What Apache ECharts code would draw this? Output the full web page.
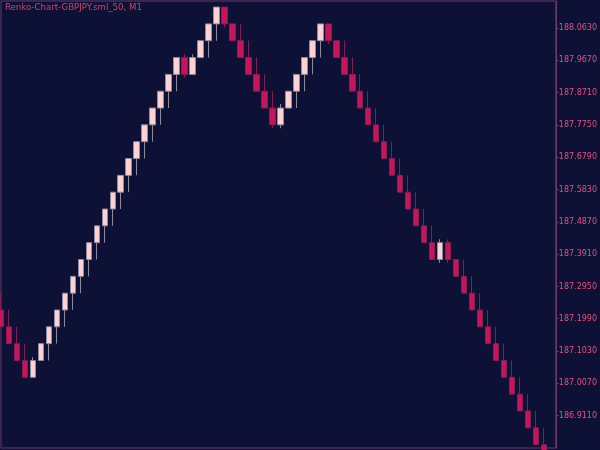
<!DOCTYPE html>
<html><head><meta charset="utf-8">
<script src="https://cdn.jsdelivr.net/npm/echarts@6/dist/echarts.min.js"></script>
<style>html,body{margin:0;padding:0;background:#0d1136;}#c{width:600px;height:450px;}</style>
</head><body><div id="c"></div>
<script>
const brickIndex = [0,1,2,3,4,5,6,7,8,9,10,11,12,13,14,15,16,17,18,19,20,21,22,23,24,25,26,27,28,29,30,31,32,33,34,35,36,37,38,39,40,41,42,43,44,45,46,47,48,49,50,51,52,53,54,55,56,57,58,59,60,61,62,63,64,65,66,67,68];
const openPrices = [187.225,187.175,187.125,187.075,187.025,187.075,187.125,187.175,187.225,187.275,187.325,187.375,187.425,187.475,187.525,187.575,187.625,187.675,187.725,187.775,187.825,187.875,187.925,187.975,187.925,187.975,188.025,188.075,188.125,188.075,188.025,187.975,187.925,187.875,187.825,187.775,187.825,187.875,187.925,187.975,188.025,188.075,188.025,187.975,187.925,187.875,187.825,187.775,187.725,187.675,187.625,187.575,187.525,187.475,187.425,187.375,187.425,187.375,187.325,187.275,187.225,187.175,187.125,187.075,187.025,186.975,186.925,186.875,186.825];
const closePrices = [187.175,187.125,187.075,187.025,187.075,187.125,187.175,187.225,187.275,187.325,187.375,187.425,187.475,187.525,187.575,187.625,187.675,187.725,187.775,187.825,187.875,187.925,187.975,187.925,187.975,188.025,188.075,188.125,188.075,188.025,187.975,187.925,187.875,187.825,187.775,187.825,187.875,187.925,187.975,188.025,188.075,188.025,187.975,187.925,187.875,187.825,187.775,187.725,187.675,187.625,187.575,187.525,187.475,187.425,187.375,187.425,187.375,187.325,187.275,187.225,187.175,187.125,187.075,187.025,186.975,186.925,186.875,186.825,186.775];
const lowPrices = [187.175,187.125,187.075,187.025,187.025,187.075,187.075,187.125,187.175,187.225,187.275,187.325,187.375,187.425,187.475,187.525,187.575,187.625,187.675,187.725,187.775,187.825,187.875,187.915,187.925,187.975,187.975,188.025,188.065,188.025,187.975,187.925,187.875,187.825,187.765,187.765,187.825,187.825,187.875,187.925,187.975,188.015,187.975,187.925,187.875,187.825,187.775,187.725,187.675,187.625,187.575,187.525,187.475,187.425,187.375,187.365,187.365,187.325,187.275,187.225,187.175,187.125,187.075,187.025,186.975,186.925,186.875,186.825,186.775];
const highPrices = [187.275,187.225,187.175,187.125,187.085,187.125,187.175,187.225,187.275,187.325,187.375,187.425,187.475,187.525,187.575,187.625,187.675,187.725,187.775,187.825,187.875,187.925,187.975,187.985,187.985,188.025,188.075,188.125,188.125,188.075,188.075,188.025,187.975,187.925,187.875,187.837,187.875,187.925,187.975,188.025,188.075,188.075,188.025,188.025,187.975,187.925,187.875,187.825,187.775,187.725,187.675,187.625,187.575,187.525,187.475,187.435,187.435,187.375,187.375,187.325,187.275,187.225,187.175,187.125,187.075,187.025,186.975,186.925,186.875];
const priceTicks = [186.911,187.007,187.103,187.199,187.295,187.391,187.487,187.583,187.679,187.775,187.871,187.967,188.063];
const chartTitle = 'Renko-Chart-GBPJPY.sml_50, M1';

const bricks = brickIndex.map((x, k) => [x, openPrices[k], closePrices[k], lowPrices[k], highPrices[k]]);
const frameColor = '#6b3b68';

const chart = echarts.init(document.getElementById('c'));
chart.setOption({
  backgroundColor: '#0d1136',
  animation: false,
  title: {
    text: chartTitle, left: 5, top: 3, padding: 0,
    textStyle: { color: '#d0426c', fontSize: 8.6, fontWeight: 'normal', fontFamily: 'DejaVu Sans' }
  },
  grid: { left: 1, top: 1, right: 43, bottom: 2, show: true, borderColor: frameColor, borderWidth: 1, backgroundColor: 'transparent' },
  xAxis: { type: 'value', min: 0, max: 69.5, show: false },
  yAxis: {
    type: 'value', position: 'right', min: 186.815, max: 188.143, scale: true,
    axisLine: { show: true, onZero: false, lineStyle: { color: frameColor } },
    axisTick: { show: true, inside: false, length: 3, customValues: priceTicks, lineStyle: { color: frameColor } },
    axisLabel: { customValues: priceTicks, formatter: v => v.toFixed(4), color: '#e8507a', fontSize: 8, fontFamily: 'DejaVu Sans', margin: 3 },
    splitLine: { show: false }
  },
  series: [{
    type: 'candlestick', data: bricks, barWidth: 6, clip: true,
    itemStyle: { color: '#ffd2d2', color0: '#c4175a', borderColor: '#8e8a9e', borderColor0: '#8a1a50', borderWidth: 1 }
  }]
});
</script>
</body></html>
